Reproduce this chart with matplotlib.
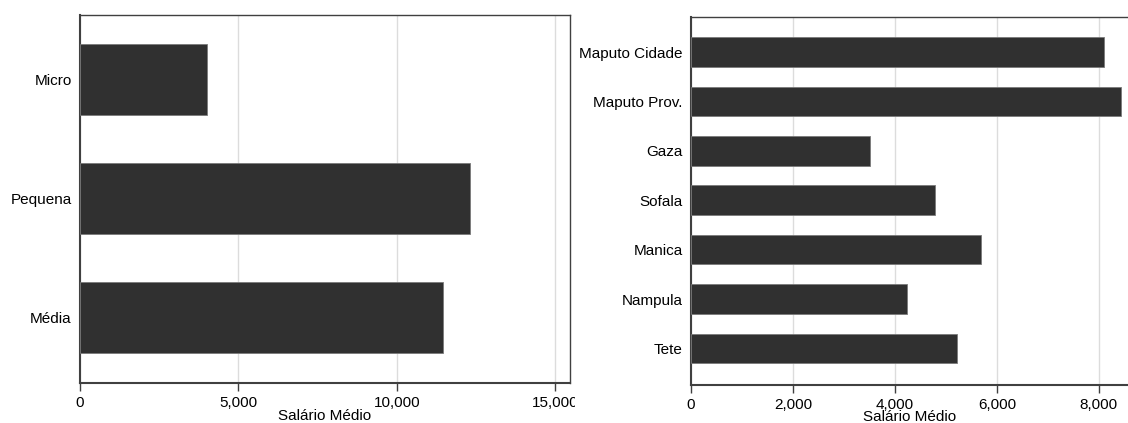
import matplotlib
matplotlib.use("Agg")
import matplotlib.pyplot as plt
from matplotlib.ticker import FuncFormatter
from matplotlib.transforms import Bbox

plt.rcParams['font.family'] = ['Liberation Sans', 'DejaVu Sans']

# dados
dimensao = ['Micro', 'Pequena', 'Média']
salario_dimensao = [4025, 12300, 11465]

provincias = ['Maputo Cidade', 'Maputo Prov.', 'Gaza', 'Sofala', 'Manica', 'Nampula', 'Tete']
salario_provincia = [8095, 8440, 3510, 4785, 5685, 4235, 5215]

W, H = 1128, 423
BAR = '#303030'
GRID = '#dcdcdc'
SPINE = '#404040'
FS = 11


def fmt(x, pos):
    return f'{x:,.0f}'


def style(ax, vals, labels, ylim, xlim, ticks, labelpad):
    ax.barh(range(len(vals)), vals, height=0.6, color=BAR,
            edgecolor='#7a7a7a', linewidth=0.6, zorder=3)
    ax.set_yticks(range(len(labels)))
    ax.set_yticklabels(labels)
    ax.set_ylim(ylim)
    ax.set_xlim(xlim)
    ax.set_xticks(ticks)
    ax.xaxis.set_major_formatter(FuncFormatter(fmt))
    ax.grid(axis='x', color=GRID, linewidth=1.0, zorder=0)
    ax.set_axisbelow(True)
    ax.tick_params(axis='y', length=0, labelsize=FS, pad=6)
    ax.tick_params(axis='x', length=6, width=1, color=SPINE, labelsize=FS, pad=3)
    for s in ax.spines.values():
        s.set_color(SPINE)
        s.set_linewidth(1.0)
    ax.spines['bottom'].set_linewidth(1.5)
    ax.spines['left'].set_linewidth(1.5)
    ax.set_xlabel('Salário Médio', fontsize=FS, labelpad=labelpad)


fig = plt.figure(figsize=(W / 100, H / 100), dpi=100)

ax1 = fig.add_axes([80 / W, 1 - 383 / H, (570 - 80) / W, (383 - 15) / H])
style(ax1, salario_dimensao, dimensao, (2.55, -0.54), (0, 15470),
      [0, 5000, 10000, 15000], -0.5)

ax2 = fig.add_axes([691 / W, 1 - 385 / H, (W - 691) / W, (385 - 17) / H])
style(ax2, salario_provincia, provincias, (6.74, -0.71), (0, 8570),
      [0, 2000, 4000, 6000, 8000], -1)
ax2.spines['right'].set_visible(False)

# o rótulo 15,000 aparece cortado no original
clip = Bbox.from_extents(0, 0, 575, H)
for tick in ax1.xaxis.get_major_ticks():
    tick.label1.set_clip_on(True)
    tick.label1.set_clip_box(clip)

fig.savefig('out.png', dpi=100)
